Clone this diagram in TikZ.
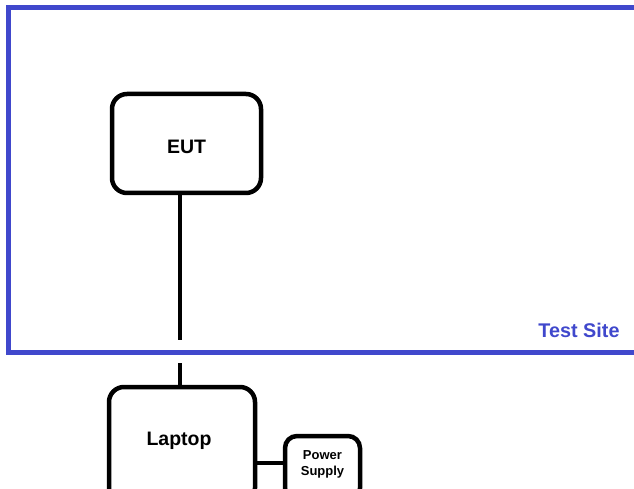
\documentclass[tikz,border=0pt]{standalone}
\usepackage{fontspec}
\setmainfont{Liberation Sans}
\begin{document}
\begin{tikzpicture}[x=1pt,y=-1pt,
  unit/.style={draw=black,line width=4.5pt,rounded corners=15pt,font=\bfseries\fontsize{19.5}{21}\selectfont,inner sep=0pt},
  small/.style={draw=black,line width=4.5pt,rounded corners=12pt,font=\bfseries\fontsize{13}{16}\selectfont,inner sep=0pt},
  wire/.style={line width=4.5pt,black}]
\definecolor{siteblue}{RGB}{64,72,204}
\useasboundingbox (0,0) rectangle (634,489);
\clip (0,0) rectangle (634,489);
\draw[siteblue,line width=5pt] (8.5,8) rectangle (660,352);
\node[unit,minimum width=149pt,minimum height=99pt] (EUT) at (186.5,143.5) {\smash{\raisebox{-10.5pt}{EUT}}};
\node[unit,minimum width=146pt,minimum height=116pt] (Laptop) at (182,445) {\kern-6pt\smash{\raisebox{0pt}{Laptop}}};
\node[small,minimum width=75pt,minimum height=64pt] (PS) at (322.5,468) {\smash{\raisebox{-7pt}{\begin{tabular}[b]{@{}c@{}}Power\\Supply\end{tabular}}}};
\node[font=\bfseries\fontsize{19.8}{21}\selectfont,text=siteblue,inner sep=0pt] (site) at (579,330) {Test Site};
\coordinate (c1) at (180,340);
\coordinate (c2) at (180,363);
\draw[wire] (c1 |- EUT.south) -- (c1);
\draw[wire] (c2) -- (c2 |- Laptop.north);
\draw[wire] (Laptop.east |- 0,463) -- (PS.west |- 0,463);
\end{tikzpicture}
\end{document}
